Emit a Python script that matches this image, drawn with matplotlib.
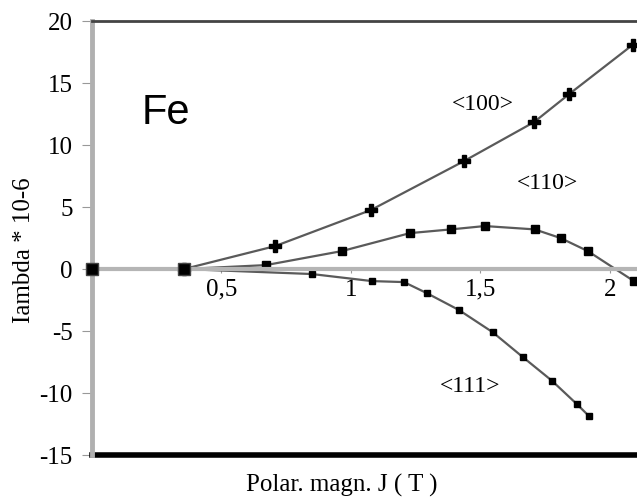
import matplotlib
matplotlib.use("Agg")
import matplotlib.pyplot as plt

# <100> direction (star markers)
j_100 = [0.355, 0.707, 1.077, 1.436, 1.707, 1.842, 2.089]
l_100 = [0.0, 1.85, 4.76, 8.7, 11.85, 14.1, 18.1]

# <110> direction (square markers)
j_110 = [0.355, 0.672, 0.965, 1.228, 1.386, 1.517, 1.71, 1.81, 1.915, 2.093]
l_110 = [0.0, 0.32, 1.45, 2.9, 3.2, 3.47, 3.2, 2.5, 1.45, -0.97]

# <111> direction (small markers)
j_111 = [0.355, 0.849, 1.081, 1.205, 1.293, 1.417, 1.548, 1.664, 1.776, 1.873, 1.919]
l_111 = [0.0, -0.4, -0.97, -1.05, -1.94, -3.3, -5.1, -7.1, -9.0, -10.9, -11.85]

# origin point and start point
j_0 = [0.0, 0.355]
l_0 = [0.0, 0.0]

xticks = [0.5, 1.0, 1.5, 2.0]
xticklabels = ["0,5", "1", "1,5", "2"]
yticks = [-15, -10, -5, 0, 5, 10, 15, 20]

plt.rcParams['font.family'] = ['Liberation Serif', 'DejaVu Serif']
plt.rcParams['axes.unicode_minus'] = False

fig = plt.figure(figsize=(6.37, 5.01), dpi=100)
ax = fig.add_axes([0.1444, 0.0918, 0.8556, 0.866])

line_kw = dict(color='#5a5a5a', linewidth=1.6, markeredgecolor='black',
               markerfacecolor='black', clip_on=True)
ax.plot(j_100, l_100, marker='P', markersize=9, **line_kw)
ax.plot(j_110, l_110, marker='s', markersize=6, **line_kw)
ax.plot(j_111, l_111, marker='s', markersize=4.5, **line_kw)
ax.plot(j_0, l_0, linestyle='none', marker='s', markersize=8,
        markerfacecolor='black', markeredgecolor='#444444',
        clip_on=False, zorder=5)

ax.set_xlim(0, 2.105)
ax.set_ylim(-15, 20)

# x axis drawn on the zero line
ax.spines['bottom'].set_position(('data', 0))
ax.spines['bottom'].set_color('#b5b5b5')
ax.spines['bottom'].set_linewidth(3)
ax.spines['left'].set_color('#b0b0b0')
ax.spines['left'].set_linewidth(3.5)
ax.spines['top'].set_color('#444444')
ax.spines['top'].set_linewidth(2)
ax.spines['right'].set_visible(False)
ax.axhline(-15, color='black', linewidth=4, clip_on=False)

ax.set_xticks(xticks)
ax.set_xticklabels(xticklabels)
ax.set_yticks(yticks)
ax.tick_params(axis='x', direction='out', length=3, color='#999999',
               labelsize=18, pad=4)
ax.tick_params(axis='y', direction='out', length=7, color='#999999',
               labelsize=18, pad=7)

ax.set_ylabel('Iambda * 10-6', fontsize=18)
ax.yaxis.set_label_coords(-0.105, 0.472)
fig.text(0.536, 0.032, 'Polar. magn. J ( T )', fontsize=18,
         ha='center', va='center')

ax.text(0.19, 12.6, 'Fe', fontsize=30, family='Liberation Sans',
        ha='left', va='center')
ax.text(1.51, 13.3, '<100>', fontsize=17, ha='center', va='center')
ax.text(1.76, 6.9, '<110>', fontsize=17, ha='center', va='center')
ax.text(1.46, -9.5, '<111>', fontsize=17, ha='center', va='center')

fig.savefig('out.png', dpi=100)
